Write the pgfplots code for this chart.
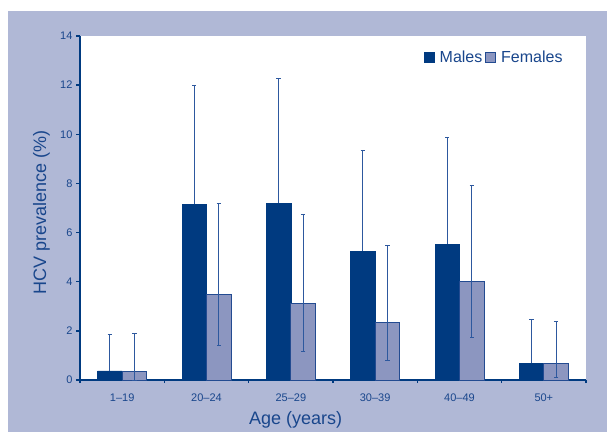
\documentclass[border=0pt]{standalone}
\usepackage{fontspec}
\setmainfont{Liberation Sans}
\usepackage{pgfplots}
\pgfplotsset{compat=1.18}

\definecolor{frame}{RGB}{176,184,214}
\definecolor{navy}{RGB}{0,58,128}
\definecolor{fem}{RGB}{140,150,192}
\definecolor{femedge}{RGB}{35,75,145}
\definecolor{errc}{RGB}{45,88,158}
\definecolor{txt}{RGB}{25,70,140}

\begin{document}
\begin{tikzpicture}[x=1pt,y=1pt]
  \fill[white] (0,0) rectangle (607,432);
  \fill[frame] (8,0) rectangle (607,421);
  \begin{axis}[
      at={(80pt,52pt)}, anchor=south west,
      scale only axis, width=506pt, height=344pt,
      axis background/.style={fill=white},
      xmin=0, xmax=6, ymin=0, ymax=14,
      axis x line*=bottom, axis y line*=left,
      axis line style={navy, line width=1.3pt, -},
      ytick={0,2,...,14},
      xtick={0.5,1.5,...,5.5},
      xticklabels={1–19,20–24,25–29,30–39,40–49,50+},
      major x tick style={draw=none},
      minor xtick={0,1,...,6},
      minor tick length=3pt,
      major tick length=4pt,
      tick align=outside,
      tick style={navy, line width=1.3pt},
      every tick label/.append style={font=\fontsize{11}{13}\selectfont, text=txt},
      xticklabel style={yshift=-6pt},
      /pgf/number format/assume math mode=true,
      xlabel={Age (years)},
      ylabel={HCV prevalence (\%)},
      label style={font=\fontsize{18}{20}\selectfont, text=txt},
      xlabel style={at={(axis description cs:0.426,0)}, anchor=base, yshift=-44pt},
      ylabel style={at={(axis description cs:-0.067,0.488)}, anchor=base},
      ybar, bar width=24.5pt,
      legend columns=2,
      legend style={draw=none, fill=none, at={(axis description cs:0.958,0.939)}, anchor=east,
        font=\fontsize{16}{18}\selectfont, text=txt,
        /tikz/every even column/.append style={column sep=1pt},
        /tikz/every odd column/.append style={column sep=3pt},
        inner sep=0pt},
      legend image code/.code={\fill[#1] (0pt,-5pt) rectangle (10pt,5pt);},
      clip=false,
    ]
    \addplot[fill=navy, draw=navy, line width=0.5pt, bar shift=-12.25pt,
      error bars/.cd, y dir=plus, y explicit,
      error bar style={errc, line width=1pt},
      error mark options={errc, rotate=90, mark size=2.2pt, line width=1pt}]
      coordinates {
        (0.5,0.37) += (0,1.50)
        (1.5,7.15) += (0,4.85)
        (2.5,7.20) += (0,5.09)
        (3.5,5.25) += (0,4.08)
        (4.5,5.53) += (0,4.32)
        (5.5,0.68) += (0,1.77)
      };
    \addplot[fill=fem, draw=femedge, line width=0.8pt, bar shift=12.25pt,
      error bars/.cd, y dir=both, y explicit,
      error bar style={errc, line width=1pt},
      error mark options={errc, rotate=90, mark size=2.2pt, line width=1pt}]
      coordinates {
        (0.5,0.35) += (0,1.53) -= (0,0.35)
        (1.5,3.48) += (0,3.70) -= (0,2.07)
        (2.5,3.10) += (0,3.65) -= (0,1.96)
        (3.5,2.36) += (0,3.13) -= (0,1.57)
        (4.5,4.01) += (0,3.89) -= (0,2.28)
        (5.5,0.68) += (0,1.70) -= (0,0.59)
      };
    \legend{Males, Females}
  \end{axis}
\end{tikzpicture}
\end{document}
